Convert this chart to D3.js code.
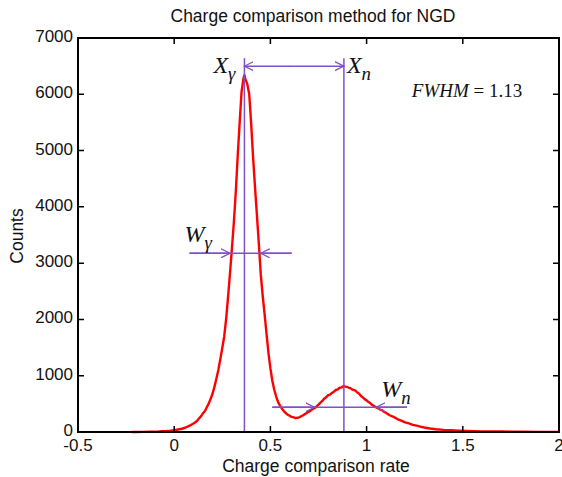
<!DOCTYPE html>
<html>
<head>
<meta charset="utf-8">
<script src="https://cdn.jsdelivr.net/npm/d3@7"></script>
<style>
  body { margin: 0; background: #fff; }
  svg text { font-family: "Liberation Sans", Arial, Helvetica, sans-serif; fill: #111; }
  .math { font-family: "Liberation Serif", "Times New Roman", serif; font-style: italic; }
</style>
</head>
<body>
<svg id="chart" width="562" height="477"></svg>
<script>
// charge comparison rate histogram
const rates = [
  -0.22, -0.20, -0.16, -0.12, -0.08, -0.04, -0.02, 0.00, 0.02, 0.04, 0.06, 0.08,
  0.10, 0.11, 0.12, 0.13, 0.14, 0.15, 0.16, 0.17, 0.18, 0.19, 0.20, 0.21, 0.22,
  0.23, 0.24, 0.25, 0.26, 0.27, 0.28, 0.29, 0.30, 0.31, 0.32, 0.33, 0.34, 0.35,
  0.36, 0.365, 0.37, 0.38, 0.39, 0.40, 0.41, 0.42, 0.43, 0.44, 0.45, 0.46, 0.47,
  0.48, 0.49, 0.50, 0.51, 0.52, 0.53, 0.54, 0.55, 0.56, 0.57, 0.58, 0.59, 0.60,
  0.61, 0.62, 0.63, 0.64, 0.65, 0.66, 0.67, 0.68, 0.69, 0.70, 0.71, 0.72, 0.73,
  0.74, 0.75, 0.76, 0.77, 0.78, 0.79, 0.80, 0.81, 0.82, 0.83, 0.84, 0.85, 0.86,
  0.87, 0.88, 0.89, 0.90, 0.91, 0.92, 0.93, 0.94, 0.95, 0.96, 0.97, 0.98, 0.99,
  1.00, 1.01, 1.02, 1.03, 1.04, 1.05, 1.06, 1.07, 1.08, 1.09, 1.10, 1.12, 1.14,
  1.16, 1.18, 1.20, 1.22, 1.24, 1.26, 1.28, 1.30, 1.33, 1.36, 1.40, 1.44, 1.48,
  1.52, 1.56, 1.60, 1.70, 1.80, 1.90, 2.00
];
const counts = [
  0, 1, 3, 6, 10, 18, 24, 33, 45, 58, 80, 112,
  150, 172, 203, 244, 282, 334, 372, 445, 508, 594, 688, 815, 958,
  1112, 1300, 1492, 1702, 2010, 2400, 2820, 3260, 3720, 4260, 4900, 5480, 6040,
  6280, 6340, 6270, 6180, 6000, 5480, 4880, 4350, 3850, 3340, 2800, 2420, 2090,
  1740, 1400, 1130, 910, 750, 630, 530, 470, 415, 372, 335, 306, 290,
  268, 262, 246, 254, 260, 280, 298, 320, 340, 362, 384, 408, 424,
  455, 486, 522, 552, 594, 618, 656, 664, 694, 716, 746, 756, 786,
  792, 818, 806, 800, 782, 770, 748, 738, 708, 684, 644, 616, 584,
  562, 532, 510, 478, 460, 436, 420, 398, 388, 360, 344, 298, 268,
  230, 202, 170, 152, 126, 112, 94, 80, 62, 50, 38, 30, 24,
  19, 15, 12, 8, 5, 3, 2
];

const xTicks = [-0.5, 0, 0.5, 1, 1.5, 2];
const yTicks = [0, 1000, 2000, 3000, 4000, 5000, 6000, 7000];

// peak positions and widths (annotation values)
const peakRates = [0.365, 0.882];
const peakArrowCount = 6500;
const peakLineTop = 6640;
const gammaWidth = { count: 3175, from: 0.08, to: 0.61, left: 0.29, right: 0.45 };
const neutronWidth = { count: 440, from: 0.51, to: 1.21, left: 0.73, right: 1.05 };
const fwhmText = "1.13";

const margin = { top: 38, right: 3, bottom: 45, left: 78 };
const width = 562 - margin.left - margin.right;
const height = 477 - margin.top - margin.bottom;
const purple = "#8050c8";

const svg = d3.select("#chart");
const g = svg.append("g").attr("transform", `translate(${margin.left},${margin.top})`);

const x = d3.scaleLinear().domain([-0.5, 2]).range([0, width]);
const y = d3.scaleLinear().domain([0, 7000]).range([height, 0]);

// arrowhead (open chevron like the original)
svg.append("defs")
  .append("marker")
  .attr("id", "arrow")
  .attr("viewBox", "0 -5 10 10")
  .attr("refX", 9)
  .attr("refY", 0)
  .attr("markerUnits", "userSpaceOnUse")
  .attr("markerWidth", 10)
  .attr("markerHeight", 10)
  .attr("orient", "auto")
  .append("path")
  .attr("d", "M0,-4.5 L9,0 L0,4.5")
  .attr("fill", "none")
  .attr("stroke", purple)
  .attr("stroke-width", 1.3);

// curve
const points = rates.map((r, i) => [r, counts[i]]);
g.append("path")
  .datum(points)
  .attr("fill", "none")
  .attr("stroke", "#ff0000")
  .attr("stroke-width", 2.4)
  .attr("stroke-linejoin", "round")
  .attr("d", d3.line().x((d) => x(d[0])).y((d) => y(d[1])));

// peak position lines
g.selectAll(".peak-line")
  .data(peakRates)
  .enter()
  .append("line")
  .attr("class", "peak-line")
  .attr("x1", (d) => x(d))
  .attr("x2", (d) => x(d))
  .attr("y1", y(0))
  .attr("y2", y(peakLineTop))
  .attr("stroke", purple)
  .attr("stroke-width", 1.5);

// arrow between the peaks, heads at both ends
const midRate = (peakRates[0] + peakRates[1]) / 2;
[peakRates[0], peakRates[1]].forEach((end) => {
  g.append("line")
    .attr("x1", x(midRate))
    .attr("x2", x(end))
    .attr("y1", y(peakArrowCount))
    .attr("y2", y(peakArrowCount))
    .attr("stroke", purple)
    .attr("stroke-width", 1.5)
    .attr("marker-end", "url(#arrow)");
});

// width markers
function drawWidth(w) {
  g.append("line")
    .attr("x1", x(w.from))
    .attr("x2", x(w.to))
    .attr("y1", y(w.count))
    .attr("y2", y(w.count))
    .attr("stroke", purple)
    .attr("stroke-width", 1.5);
  [[w.from, w.left], [w.to, w.right]].forEach(([a, b]) => {
    g.append("line")
      .attr("x1", x(a))
      .attr("x2", x(b))
      .attr("y1", y(w.count))
      .attr("y2", y(w.count))
      .attr("stroke", purple)
      .attr("stroke-width", 1.5)
      .attr("marker-end", "url(#arrow)");
  });
}
drawWidth(gammaWidth);
drawWidth(neutronWidth);

// math labels
function mathLabel(px, py, main, sub, size) {
  const t = g.append("text").attr("class", "math").attr("x", px).attr("y", py)
    .style("font-size", size + "px");
  t.append("tspan").text(main);
  t.append("tspan").attr("dy", size * 0.28).style("font-size", (size * 0.78) + "px").text(sub);
}
mathLabel(x(peakRates[0]) - 31, y(peakArrowCount) + 7, "X", "γ", 24);
mathLabel(x(peakRates[1]) + 3, y(peakArrowCount) + 7, "X", "n", 24);
mathLabel(x(gammaWidth.from) - 5, y(gammaWidth.count) - 11, "W", "γ", 24);
mathLabel(x(neutronWidth.right) + 5, y(neutronWidth.count) - 10, "W", "n", 24);

const fw = g.append("text")
  .attr("x", x(1.235))
  .attr("y", 59)
  .style("font-family", "'Liberation Serif', 'Times New Roman', serif")
  .style("font-size", "19px");
fw.append("tspan").style("font-style", "italic").text("FWHM");
fw.append("tspan").text(" = " + fwhmText);

// frame and ticks (MATLAB style, inward, on all sides)
const tickLen = 6;
g.selectAll(".xt")
  .data(xTicks)
  .enter()
  .append("path")
  .attr("class", "xt")
  .attr("d", (d) => `M${x(d)},${height}v${-tickLen}M${x(d)},0v${tickLen}`)
  .attr("stroke", "#000")
  .attr("stroke-width", 1.5);
g.selectAll(".yt")
  .data(yTicks)
  .enter()
  .append("path")
  .attr("class", "yt")
  .attr("d", (d) => `M0,${y(d)}h${tickLen}M${width},${y(d)}h${-tickLen}`)
  .attr("stroke", "#000")
  .attr("stroke-width", 1.5);

g.append("rect")
  .attr("width", width)
  .attr("height", height)
  .attr("fill", "none")
  .attr("stroke", "#000")
  .attr("stroke-width", 2);

g.selectAll(".xl")
  .data(xTicks)
  .enter()
  .append("text")
  .attr("class", "xl")
  .attr("x", (d) => x(d))
  .attr("y", height + 19)
  .attr("text-anchor", "middle")
  .style("font-size", "17px")
  .text((d) => d);

g.selectAll(".yl")
  .data(yTicks)
  .enter()
  .append("text")
  .attr("class", "yl")
  .attr("x", -5)
  .attr("y", (d) => y(d) - 2)
  .attr("dy", "0.35em")
  .attr("text-anchor", "end")
  .style("font-size", "17px")
  .text((d) => d);

// titles
svg.append("text")
  .attr("x", 313)
  .attr("y", 22)
  .attr("text-anchor", "middle")
  .style("font-size", "17.5px")
  .text("Charge comparison method for NGD");

svg.append("text")
  .attr("x", 316)
  .attr("y", 472)
  .attr("text-anchor", "middle")
  .style("font-size", "17.5px")
  .text("Charge comparison rate");

svg.append("text")
  .attr("transform", "translate(23,236) rotate(-90)")
  .attr("text-anchor", "middle")
  .style("font-size", "17.5px")
  .text("Counts");
</script>
</body>
</html>
